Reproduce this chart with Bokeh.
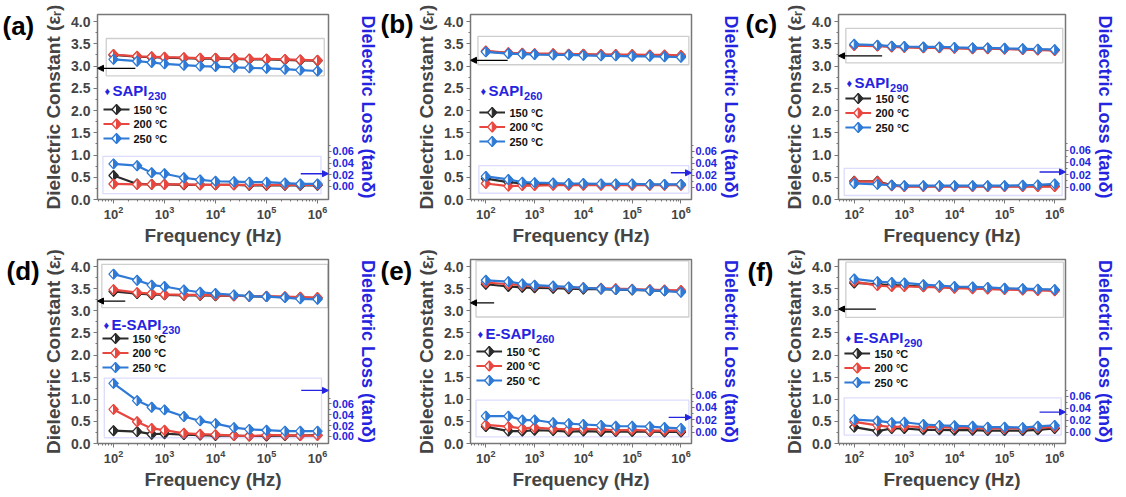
import math
from bokeh.plotting import figure
from bokeh.layouts import row, column
from bokeh.core.properties import value
from bokeh.models import (Range1d, LinearAxis, FixedTicker, SingleIntervalTicker,
                          NumeralTickFormatter, BoxAnnotation, Arrow, NormalHead, Label)
from bokeh.embed import file_html
from bokeh.resources import INLINE

FONT = "Liberation Sans"

# measurement frequencies (Hz)
freq = [100, 290, 560, 1000, 2400, 5000, 1.0e4, 2.3e4, 4.6e4, 1.0e5, 2.3e5, 4.6e5, 1.0e6]
temps = ["150 °C", "200 °C", "250 °C"]
series_colors = ["#2b2b2b", "#e8473f", "#2f7ad6"]

# dielectric constant (εr)
eps_a_150 = [3.25, 3.21, 3.20, 3.19, 3.18, 3.17, 3.17, 3.16, 3.15, 3.15, 3.14, 3.13, 3.12]
eps_a_200 = [3.26, 3.22, 3.21, 3.20, 3.19, 3.18, 3.18, 3.17, 3.16, 3.16, 3.15, 3.14, 3.13]
eps_a_250 = [3.15, 3.11, 3.08, 3.05, 3.02, 3.00, 2.99, 2.97, 2.96, 2.95, 2.93, 2.91, 2.89]
eps_b_150 = [3.33, 3.29, 3.28, 3.27, 3.27, 3.26, 3.26, 3.25, 3.25, 3.24, 3.24, 3.23, 3.22]
eps_b_200 = [3.34, 3.30, 3.29, 3.28, 3.28, 3.27, 3.27, 3.26, 3.26, 3.26, 3.25, 3.25, 3.24]
eps_b_250 = [3.32, 3.28, 3.27, 3.26, 3.25, 3.25, 3.24, 3.23, 3.23, 3.22, 3.22, 3.21, 3.20]
eps_c_150 = [3.47, 3.46, 3.44, 3.43, 3.42, 3.42, 3.41, 3.40, 3.40, 3.39, 3.38, 3.37, 3.36]
eps_c_200 = [3.46, 3.45, 3.43, 3.42, 3.41, 3.41, 3.40, 3.39, 3.39, 3.38, 3.37, 3.36, 3.35]
eps_c_250 = [3.49, 3.47, 3.45, 3.44, 3.43, 3.43, 3.42, 3.41, 3.41, 3.40, 3.39, 3.38, 3.37]
eps_d_150 = [3.44, 3.39, 3.37, 3.36, 3.35, 3.35, 3.34, 3.34, 3.33, 3.32, 3.31, 3.30, 3.29]
eps_d_200 = [3.48, 3.41, 3.39, 3.37, 3.36, 3.36, 3.35, 3.34, 3.33, 3.33, 3.32, 3.31, 3.30]
eps_d_250 = [3.83, 3.69, 3.58, 3.55, 3.47, 3.42, 3.39, 3.36, 3.33, 3.32, 3.30, 3.27, 3.26]
eps_e_150 = [3.60, 3.55, 3.53, 3.52, 3.51, 3.50, 3.49, 3.49, 3.48, 3.47, 3.46, 3.45, 3.44]
eps_e_200 = [3.64, 3.60, 3.58, 3.56, 3.54, 3.53, 3.52, 3.51, 3.50, 3.49, 3.48, 3.47, 3.46]
eps_e_250 = [3.69, 3.66, 3.61, 3.58, 3.56, 3.54, 3.52, 3.50, 3.48, 3.48, 3.46, 3.45, 3.42]
eps_f_150 = [3.63, 3.60, 3.58, 3.57, 3.55, 3.54, 3.53, 3.52, 3.51, 3.50, 3.49, 3.48, 3.47]
eps_f_200 = [3.66, 3.57, 3.55, 3.55, 3.54, 3.53, 3.51, 3.50, 3.49, 3.48, 3.47, 3.46, 3.45]
eps_f_250 = [3.72, 3.66, 3.64, 3.63, 3.59, 3.57, 3.55, 3.54, 3.53, 3.51, 3.50, 3.49, 3.48]

# dielectric loss (tanδ)
tan_a_150 = [0.0185, 0.0038, 0.0031, 0.0031, 0.0023, 0.0023, 0.0023, 0.0023, 0.0015, 0.0015, 0.0015, 0.0015, 0.0015]
tan_a_200 = [0.0038, 0.0031, 0.0031, 0.0031, 0.0031, 0.0023, 0.0023, 0.0023, 0.0023, 0.0023, 0.0023, 0.0023, 0.0023]
tan_a_250 = [0.0385, 0.0354, 0.0231, 0.0215, 0.0146, 0.0108, 0.0085, 0.0077, 0.0069, 0.0069, 0.0054, 0.0038, 0.0038]
tan_b_150 = [0.0143, 0.0083, 0.0060, 0.0053, 0.0053, 0.0045, 0.0045, 0.0045, 0.0045, 0.0045, 0.0038, 0.0038, 0.0038]
tan_b_200 = [0.0060, 0.0015, 0.0023, 0.0023, 0.0030, 0.0030, 0.0030, 0.0030, 0.0030, 0.0030, 0.0030, 0.0030, 0.0030]
tan_b_250 = [0.0180, 0.0128, 0.0083, 0.0075, 0.0068, 0.0060, 0.0060, 0.0053, 0.0053, 0.0053, 0.0045, 0.0045, 0.0045]
tan_c_150 = [0.0094, 0.0094, 0.0029, 0.0014, 0.0014, 0.0014, 0.0014, 0.0014, 0.0014, 0.0014, 0.0014, 0.0014, 0.0014]
tan_c_200 = [0.0087, 0.0087, 0.0022, 0.0007, 0.0007, 0.0007, 0.0007, 0.0007, 0.0007, 0.0007, 0.0007, 0.0007, 0.0007]
tan_c_250 = [0.0058, 0.0043, 0.0029, 0.0022, 0.0022, 0.0022, 0.0022, 0.0022, 0.0022, 0.0022, 0.0029, 0.0036, 0.0051]
tan_d_150 = [0.0105, 0.0089, 0.0041, 0.0049, 0.0032, 0.0024, 0.0016, 0.0016, 0.0008, 0.0008, 0.0016, 0.0016, 0.0024]
tan_d_200 = [0.0495, 0.0268, 0.0146, 0.0114, 0.0057, 0.0041, 0.0032, 0.0016, 0.0008, 0.0024, 0.0024, 0.0016, 0.0016]
tan_d_250 = [0.0973, 0.0657, 0.0535, 0.0487, 0.0365, 0.0284, 0.0235, 0.0162, 0.0130, 0.0114, 0.0097, 0.0097, 0.0097]
tan_e_150 = [0.0092, 0.0021, 0.0021, 0.0035, 0.0028, 0.0014, 0.0021, 0.0014, 0.0014, 0.0014, 0.0014, 0.0007, 0.0007]
tan_e_200 = [0.0120, 0.0092, 0.0064, 0.0078, 0.0056, 0.0049, 0.0056, 0.0049, 0.0035, 0.0042, 0.0028, 0.0028, 0.0028]
tan_e_250 = [0.0261, 0.0261, 0.0198, 0.0198, 0.0155, 0.0141, 0.0127, 0.0113, 0.0099, 0.0099, 0.0092, 0.0078, 0.0064]
tan_f_150 = [0.0081, 0.0015, 0.0059, 0.0059, 0.0037, 0.0037, 0.0030, 0.0030, 0.0022, 0.0022, 0.0022, 0.0037, 0.0059]
tan_f_200 = [0.0170, 0.0111, 0.0081, 0.0096, 0.0081, 0.0081, 0.0074, 0.0067, 0.0059, 0.0059, 0.0059, 0.0074, 0.0081]
tan_f_250 = [0.0207, 0.0185, 0.0156, 0.0163, 0.0126, 0.0111, 0.0104, 0.0096, 0.0081, 0.0081, 0.0074, 0.0096, 0.0111]

X_RANGE = (10 ** 1.686, 10 ** 6.216)
Y_MAX = 4.16
BLUE = "#2424e0"
AXIS_GRAY = "#777777"

# panel layout: column width, tag strip (width, x, y-from-top), borders of the plot
# (l, r, t, b), left-axis position of tanδ 0.00 and 0.06, highlight boxes (x0, x1, y0, y1),
# arrows (x_start, y), legend placement (x, title y, first entry y)
panels = [
    dict(tag="(a)", name="SAPI", sub="230", size=(380, 250), tag_strip=(40, 2, 10),
         borders=(57, 52, 14, 51), loss_axis=(0.30, 1.08),
         gray=(72, 1.36e6, 2.78, 3.62), blue=(62, 1.17e6, 0.13, 0.97),
         arrow_k=(268, 2.95), arrow_b=(4.7e5, 0.58), leg=(6, 76, 95),
         eps=(eps_a_150, eps_a_200, eps_a_250), tan=(tan_a_150, tan_a_200, tan_a_250)),
    dict(tag="(b)", name="SAPI", sub="260", size=(365, 250), tag_strip=(33, 0, 8),
         borders=(54, 54, 14, 51), loss_axis=(0.28, 1.08),
         gray=(69, 1.45e6, 3.03, 3.67), blue=(72, 1.45e6, 0.14, 0.76),
         arrow_k=(280, 3.13), arrow_b=(6.2e5, 0.60), leg=(9, 76, 98),
         eps=(eps_b_150, eps_b_200, eps_b_250), tan=(tan_b_150, tan_b_200, tan_b_250)),
    dict(tag="(c)", name="SAPI", sub="290", size=(381, 250), tag_strip=(36, 0, 8),
         borders=(54, 61, 14, 51), loss_axis=(0.28, 1.11),
         gray=(68, 1.45e6, 3.07, 3.85), blue=(63, 1.41e6, 0.09, 0.70),
         arrow_k=(360, 3.23), arrow_b=(5.0e5, 0.62), leg=(7, 68, 84),
         eps=(eps_c_150, eps_c_200, eps_c_250), tan=(tan_c_150, tan_c_200, tan_c_250)),
    dict(tag="(d)", name="E-SAPI", sub="230", size=(380, 247), tag_strip=(40, 6, 5),
         borders=(57, 52, 9, 54), loss_axis=(0.16, 0.90),
         gray=(59, 1.6e6, 3.07, 4.05), blue=(66, 1.2e6, 0.13, 1.48),
         arrow_k=(170, 3.22), arrow_b=(4.8e5, 1.20), leg=(5, 65, 79),
         eps=(eps_d_150, eps_d_200, eps_d_250), tan=(tan_d_150, tan_d_200, tan_d_250)),
    dict(tag="(e)", name="E-SAPI", sub="260", size=(365, 247), tag_strip=(33, 0, 5),
         borders=(54, 54, 9, 54), loss_axis=(0.25, 1.10),
         gray=(63, 1.45e6, 2.86, 4.13), blue=(63, 1.45e6, 0.15, 0.98),
         arrow_k=(148, 3.18), arrow_b=(5.6e5, 0.59), leg=(6, 74, 92),
         eps=(eps_e_150, eps_e_200, eps_e_250), tan=(tan_e_150, tan_e_200, tan_e_250)),
    dict(tag="(f)", name="E-SAPI", sub="290", size=(381, 247), tag_strip=(36, 2, 6),
         borders=(54, 61, 9, 54), loss_axis=(0.26, 1.07),
         gray=(68, 1.5e6, 2.85, 4.10), blue=(63, 1.35e6, 0.19, 1.03),
         arrow_k=(270, 3.04), arrow_b=(5.0e5, 0.71), leg=(6, 78, 94),
         eps=(eps_f_150, eps_f_200, eps_f_250), tan=(tan_f_150, tan_f_200, tan_f_250)),
]

# Arial-bold advance widths (em) for the sample names
ADV = {"E": 0.667, "-": 0.333, "S": 0.667, "A": 0.722, "P": 0.667, "I": 0.278}


def make_tag(cfg):
    tw, tx, ty = cfg["tag_strip"]
    H = cfg["size"][1]
    t = figure(width=tw, height=H, x_range=Range1d(0, 1), y_range=Range1d(0, 1),
               title=None, output_backend="svg", toolbar_location=None,
               x_axis_location=None, y_axis_location=None,
               min_border_left=0, min_border_right=0, min_border_top=0, min_border_bottom=0)
    if "frame_align" in t.properties():
        # let this strip's frame fill its canvas instead of lining up with its neighbours
        t.frame_align = False
        dy = ty
    else:
        dy = -2
    t.grid.visible = False
    t.outline_line_color = None
    t.background_fill_color = "white"
    t.border_fill_color = "white"
    t.text(x=[0], y=[1], text=[cfg["tag"]], x_offset=tx, y_offset=dy,
           text_baseline="top", text_align="left", text_color="black",
           text_font=value(FONT), text_font_size="26px", text_font_style="bold")
    return t


def make_panel(cfg):
    W, H = cfg["size"]
    W = W - cfg["tag_strip"][0]
    bl, br, bt, bb = cfg["borders"]
    fw, fh = W - bl - br, H - bt - bb
    L0, L6 = cfg["loss_axis"]
    k = 0.06 / (L6 - L0)
    loss_rng = (-L0 * k, (Y_MAX - L0) * k)

    p = figure(width=W, height=H, x_axis_type="log",
               x_range=Range1d(*X_RANGE), y_range=Range1d(0, Y_MAX),
               output_backend="svg", toolbar_location=None,
               min_border_left=bl, min_border_right=br,
               min_border_top=bt, min_border_bottom=bb)
    p.extra_y_ranges = {"loss": Range1d(*loss_rng)}
    p.grid.visible = False
    p.outline_line_color = AXIS_GRAY
    p.outline_line_width = 1.5
    p.background_fill_color = "white"
    p.border_fill_color = "white"

    ppd = fw / math.log10(X_RANGE[1] / X_RANGE[0])

    def x_at(px):
        return X_RANGE[0] * 10 ** (px / ppd)

    def y_at(py, rng):
        return rng[1] - py * (rng[1] - rng[0]) / fh

    def diamonds(xs, ys, rng, hw=4.6, hh=5.0):
        fx = 10 ** (hw / ppd)
        dy = hh * (rng[1] - rng[0]) / fh
        fxs, fys, rxs, rys = [], [], [], []
        for x, y in zip(xs, ys):
            fxs.append([x / fx, x, x * fx, x])
            fys.append([y, y + dy, y, y - dy])
            rxs.append([x, x * fx, x])
            rys.append([y + dy, y, y - dy])
        return fxs, fys, rxs, rys

    def draw_series(xs, ys, color, rng, yname):
        kw = {} if yname is None else {"y_range_name": yname}
        p.line(xs, ys, line_color=color, line_width=2.2, **kw)
        fxs, fys, rxs, rys = diamonds(xs, ys, rng)
        p.patches(fxs, fys, fill_color="white", line_color=color, line_width=1.3, **kw)
        p.patches(rxs, rys, fill_color=color, line_color=color, line_width=1.0, **kw)

    # highlight boxes
    gx0, gx1, gy0, gy1 = cfg["gray"]
    p.add_layout(BoxAnnotation(left=gx0, right=gx1, bottom=gy0, top=gy1,
                               fill_alpha=0, line_color="#5e5e5e", line_width=1.3))
    bx0, bx1, by0, by1 = cfg["blue"]
    p.add_layout(BoxAnnotation(left=bx0, right=bx1, bottom=by0, top=by1,
                               fill_alpha=0, line_color="#8a8af5", line_width=1.3))

    y_rng = (0, Y_MAX)
    for vals, color in zip(cfg["tan"], series_colors):
        draw_series(freq, vals, color, loss_rng, "loss")
    for vals, color in zip(cfg["eps"], series_colors):
        draw_series(freq, vals, color, y_rng, None)

    # arrows pointing to the matching axis
    ks, ky = cfg["arrow_k"]
    p.add_layout(Arrow(end=NormalHead(size=6, fill_color="black", line_color="black"),
                       x_start=ks, y_start=ky, x_end=X_RANGE[0], y_end=ky,
                       line_color="black", line_width=1.2))
    bs, by = cfg["arrow_b"]
    p.add_layout(Arrow(end=NormalHead(size=6, fill_color=BLUE, line_color=BLUE),
                       x_start=bs, y_start=by, x_end=X_RANGE[1], y_end=by,
                       line_color=BLUE, line_width=1.4))

    # legend
    lx, ty, ey = cfg["leg"]
    p.add_layout(Label(x=lx + 1, y=fh - ty, x_units="screen", y_units="screen",
                       text="♦", text_color=BLUE, text_font=FONT, text_font_size="11px",
                       text_baseline="middle"))
    p.add_layout(Label(x=lx + 9, y=fh - ty, x_units="screen", y_units="screen",
                       text=cfg["name"], text_color=BLUE, text_font=FONT,
                       text_font_size="15px", text_font_style="bold", text_baseline="middle"))
    name_w = sum(ADV.get(c, 0.6) for c in cfg["name"]) * 15
    p.add_layout(Label(x=lx + 9 + name_w + 0.5, y=fh - ty - 5, x_units="screen", y_units="screen",
                       text=cfg["sub"], text_color=BLUE, text_font=FONT,
                       text_font_size="11px", text_font_style="bold", text_baseline="middle"))
    for i, (lab, color) in enumerate(zip(temps, series_colors)):
        yy = ey + i * 14.5
        yd = y_at(yy, y_rng)
        p.line([x_at(lx), x_at(lx + 26)], [yd, yd], line_color=color, line_width=2.2)
        fxs, fys, rxs, rys = diamonds([x_at(lx + 13)], [yd], y_rng)
        p.patches(fxs, fys, fill_color="white", line_color=color, line_width=1.3)
        p.patches(rxs, rys, fill_color=color, line_color=color, line_width=1.0)
        p.add_layout(Label(x=lx + 30, y=fh - yy, x_units="screen", y_units="screen",
                           text=lab, text_color="#111111", text_font=FONT,
                           text_font_size="11px", text_font_style="bold",
                           text_baseline="middle"))

    # x axis
    xa = p.xaxis[0]
    xa.axis_label = "Frequency (Hz)"
    xa.axis_label_text_font = FONT
    xa.axis_label_text_font_size = "19px"
    xa.axis_label_text_font_style = "bold"
    xa.axis_label_standoff = 3
    xa.major_label_text_font = FONT
    xa.major_label_text_font_size = "13px"
    xa.major_label_text_font_style = "bold"
    xa.major_label_standoff = 2
    xa.axis_line_color = AXIS_GRAY
    xa.major_tick_line_color = AXIS_GRAY
    xa.minor_tick_line_color = AXIS_GRAY
    xa.major_tick_out = 4
    xa.major_tick_in = 0
    xa.minor_tick_out = 2
    xa.minor_tick_in = 0

    # left axis
    ya = p.yaxis[0]
    ya.ticker = SingleIntervalTicker(interval=0.5, num_minor_ticks=2)
    ya.formatter = NumeralTickFormatter(format="0.0")
    ya.axis_label = "Dielectric Constant (εᵣ)"
    ya.axis_label_text_font = FONT
    ya.axis_label_text_font_size = "19px"
    ya.axis_label_text_font_style = "bold"
    ya.axis_label_standoff = 4
    ya.major_label_text_font = FONT
    ya.major_label_text_font_size = "14px"
    ya.major_label_text_font_style = "bold"
    ya.major_label_standoff = 3
    ya.axis_line_color = AXIS_GRAY
    ya.major_tick_line_color = AXIS_GRAY
    ya.minor_tick_line_color = AXIS_GRAY
    ya.major_tick_out = 4
    ya.major_tick_in = 0
    ya.minor_tick_out = 2
    ya.minor_tick_in = 0

    # right axis (loss)
    ra = LinearAxis(y_range_name="loss",
                    ticker=FixedTicker(ticks=[0.0, 0.02, 0.04, 0.06],
                                       minor_ticks=[0.01, 0.03, 0.05, 0.07]),
                    formatter=NumeralTickFormatter(format="0.00"))
    ra.axis_label = "Dielectric Loss (tanδ)"
    ra.axis_label_text_font = FONT
    ra.axis_label_text_font_size = "18px"
    ra.axis_label_text_font_style = "bold"
    ra.axis_label_text_color = BLUE
    ra.axis_label_standoff = 1
    ra.major_label_text_font = FONT
    ra.major_label_text_font_size = "11px"
    ra.major_label_text_font_style = "bold"
    ra.major_label_text_color = BLUE
    ra.major_label_standoff = 1
    ra.axis_line_color = None
    ra.major_tick_line_color = AXIS_GRAY
    ra.minor_tick_line_color = AXIS_GRAY
    ra.major_tick_out = 3
    ra.major_tick_in = 0
    ra.minor_tick_out = 2
    ra.minor_tick_in = 0
    p.add_layout(ra, "right")
    return p


cells = []
for cfg in panels:
    cells.append(make_tag(cfg))
    cells.append(make_panel(cfg))
layout = column(row(*cells[:6]), row(*cells[6:]))
open("out.html", "w").write(file_html(layout, INLINE))
